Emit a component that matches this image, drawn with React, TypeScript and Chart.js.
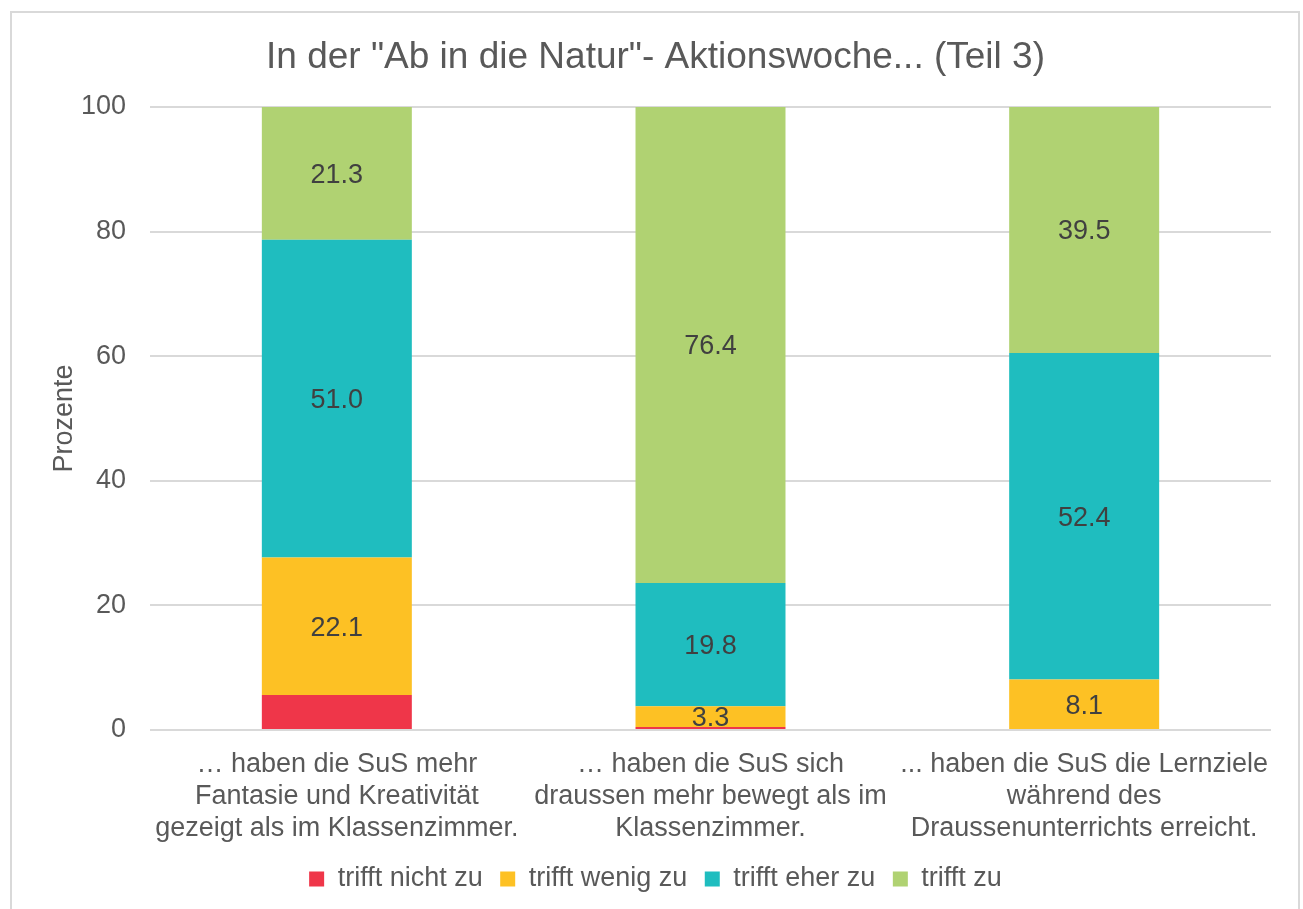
import React, { useEffect, useRef } from "react";
import { Chart, registerables } from "chart.js";

Chart.register(...registerables);

const TITLE = 'In der "Ab in die Natur"- Aktionswoche... (Teil 3)';
const Y_TITLE = "Prozente";
const CATEGORIES: string[][] = [
  ["… haben die SuS mehr", "Fantasie und Kreativität", "gezeigt als im Klassenzimmer."],
  ["… haben die SuS sich", "draussen mehr bewegt als im", "Klassenzimmer."],
  ["... haben die SuS die Lernziele", "während des", "Draussenunterrichts erreicht."],
];
const SERIES_NAMES = ["trifft nicht zu", "trifft wenig zu", "trifft eher zu", "trifft zu"];
const NICHT_ZU = [5.6, 0.5, 0];
const WENIG_ZU = [22.1, 3.3, 8.1];
const EHER_ZU = [51.0, 19.8, 52.4];
const ZU = [21.3, 76.4, 39.5];
const Y_TICKS = [0, 20, 40, 60, 80, 100];
const COLORS = ["#EF3649", "#FDC124", "#1FBDBF", "#B0D272"];
const LABELED_SERIES = [1, 2, 3];

const FONT = '"Liberation Sans", Arial, sans-serif';
const TEXT = "#595959";

const dataLabelPlugin = {
  id: "segLabels",
  afterDatasetsDraw(chart: any) {
    const ctx = chart.ctx;
    ctx.save();
    ctx.font = `27px ${FONT}`;
    ctx.fillStyle = "#404040";
    ctx.textAlign = "center";
    ctx.textBaseline = "middle";
    chart.data.datasets.forEach((ds: any, di: number) => {
      if (!LABELED_SERIES.includes(di)) return;
      const meta = chart.getDatasetMeta(di);
      meta.data.forEach((el: any, i: number) => {
        const v = ds.data[i];
        if (!v || v <= 0) return;
        const p = el.getProps(["x", "y", "base"], true);
        ctx.fillText(v.toFixed(1), p.x, (p.y + p.base) / 2 + 2);
      });
    });
    ctx.restore();
  },
};

export default function App() {
  const ref = useRef<HTMLCanvasElement | null>(null);
  useEffect(() => {
    if (!ref.current) return;
    const seriesData = [NICHT_ZU, WENIG_ZU, EHER_ZU, ZU];
    const chart = new Chart(ref.current, {
      type: "bar",
      data: {
        labels: CATEGORIES,
        datasets: SERIES_NAMES.map((name, i) => ({
          label: name,
          data: seriesData[i],
          backgroundColor: COLORS[i],
          borderWidth: 0,
          categoryPercentage: 1,
          barPercentage: 0.4014,
        })),
      },
      options: {
        animation: false,
        responsive: false,
        maintainAspectRatio: false,
        events: [],
        layout: { padding: { left: 40, right: 32, top: 0, bottom: 6.5 } },
        plugins: {
          tooltip: { enabled: false },
          title: {
            display: true,
            text: TITLE,
            color: TEXT,
            font: { family: FONT, size: 37, weight: "normal" },
            padding: { top: 36, bottom: 26.6 },
          },
          legend: {
            position: "bottom",
            labels: {
              color: TEXT,
              font: { family: FONT, size: 27 },
              boxWidth: 15,
              boxHeight: 15,
              padding: 17.5,
            },
          },
        },
        scales: {
          x: {
            stacked: true,
            grid: { display: false, drawTicks: false },
            border: { display: false },
            ticks: {
              color: TEXT,
              font: { family: FONT, size: 27 },
              padding: 18,
              maxRotation: 0,
              minRotation: 0,
              autoSkip: false,
            },
            afterFit: (s: any) => {
              s.height = 118;
            },
          },
          y: {
            stacked: true,
            min: 0,
            max: 100,
            afterBuildTicks: (s: any) => {
              s.ticks = Y_TICKS.map((v) => ({ value: v }));
            },
            grid: { color: "#d9d9d9", lineWidth: 2, drawTicks: false },
            border: { display: false },
            ticks: {
              color: TEXT,
              font: { family: FONT, size: 27 },
              padding: 24,
            },
            title: {
              display: true,
              text: Y_TITLE,
              color: TEXT,
              font: { family: FONT, size: 27 },
              padding: { top: 8, bottom: 0 },
            },
            afterFit: (s: any) => {
              s.width = 110;
            },
          },
        },
      },
      plugins: [dataLabelPlugin],
    });
    return () => chart.destroy();
  }, []);

  return (
    <div
      style={{
        position: "fixed",
        left: 0,
        top: 0,
        width: 1303,
        height: 909,
        overflow: "hidden",
        background: "#ffffff",
      }}
    >
      <div
        style={{
          position: "absolute",
          left: 10,
          top: 11,
          width: 1286,
          height: 1000,
          border: "2px solid #d9d9d9",
        }}
      />
      <canvas
        ref={ref}
        width={1303}
        height={909}
        style={{ position: "absolute", left: 0, top: 0, width: 1303, height: 909 }}
      />
    </div>
  );
}
